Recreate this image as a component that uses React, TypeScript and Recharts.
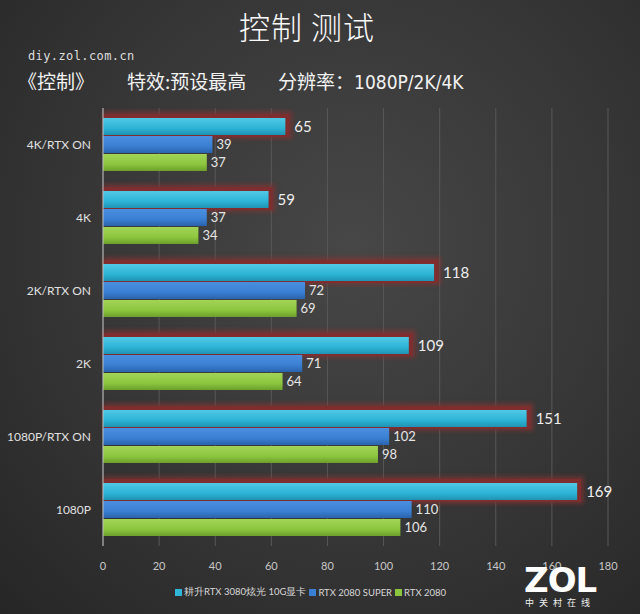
import React from "react";
import {
  BarChart,
  Bar,
  XAxis,
  YAxis,
  CartesianGrid,
  LabelList,
} from "recharts";

const categories = ["4K/RTX ON", "4K", "2K/RTX ON", "2K", "1080P/RTX ON", "1080P"];
const rtx3080 = [65, 59, 118, 109, 151, 169];
const rtx2080Super = [39, 37, 72, 71, 102, 110];
const rtx2080 = [37, 34, 69, 64, 98, 106];
const xTicks = [0, 20, 40, 60, 80, 100, 120, 140, 160, 180];

const seriesNames = ["耕升RTX 3080炫光 10G显卡", "RTX 2080 SUPER", "RTX 2080"];
const seriesColors = ["#2fb6d8", "#3a7fd2", "#8cc63e"];

const data = categories.map((label, i) => ({
  label,
  a: rtx3080[i],
  b: rtx2080Super[i],
  c: rtx2080[i],
}));

const font = "Lato, 'Noto Sans', sans-serif";
const cjk = "'Noto Sans CJK SC', sans-serif";

// cyan bar with the soft red glow box behind it
const GlowBar = (props: any) => {
  const { x, y, width, height } = props;
  return (
    <g>
      <rect x={x} y={y - 7} width={width + 7} height={height + 11} fill="#8a3030" opacity={0.6} filter="url(#soft)" />
      <rect x={x} y={y - 4} width={width + 4} height={height + 6} fill="#7e2e2e" />
      <rect x={x} y={y} width={width} height={height} fill="url(#gCyan)" />
    </g>
  );
};

const PlainBar = (fillId: string) => (props: any) => {
  const { x, y, width, height } = props;
  return <rect x={x} y={y} width={width} height={height} fill={`url(#${fillId})`} />;
};

// single-line category label, right aligned
const CategoryTick = (props: any) => {
  const { x, y, payload } = props;
  return (
    <text x={x} y={y} dx={4} dy={4} textAnchor="end" fill="#e0e0e0" fontSize={12} fontFamily={font}>
      {payload.value}
    </text>
  );
};

export default function App() {
  return (
    <div
      style={{
        position: "absolute",
        top: 0,
        left: 0,
        width: 640,
        height: 614,
        background: "radial-gradient(ellipse at 55% 40%, #474747 0%, #363636 55%, #262626 100%)",
        overflow: "hidden",
      }}
    >
      <div
        style={{
          position: "absolute",
          top: 3,
          left: 0,
          width: 614,
          textAlign: "center",
          color: "#fafafa",
          fontFamily: cjk,
          fontSize: 31,
          fontWeight: 300,
          letterSpacing: 1,
        }}
      >
        控制 测试
      </div>
      <div
        style={{
          position: "absolute",
          top: 49,
          left: 28,
          color: "#dedede",
          fontFamily: "'DejaVu Sans Mono', monospace",
          fontSize: 12,
          letterSpacing: 0.4,
        }}
      >
        diy.zol.com.cn
      </div>
      <div style={{ position: "absolute", top: 67, left: 18, color: "#f2f2f2", fontFamily: cjk, fontSize: 19 }}>
        《控制》
      </div>
      <div style={{ position: "absolute", top: 67, left: 127, color: "#f2f2f2", fontFamily: cjk, fontSize: 19 }}>
        特效:预设最高
      </div>
      <div
        style={{
          position: "absolute",
          top: 67,
          left: 278,
          color: "#f2f2f2",
          fontFamily: cjk,
          fontSize: 19,
          whiteSpace: "pre",
        }}
      >
        分辨率：<span style={{ fontFamily: "'Liberation Sans Narrow', 'DejaVu Sans Condensed', sans-serif" }}>1080P/2K/4K</span>
      </div>

      <div style={{ position: "absolute", top: 0, left: 0 }}>
        <BarChart
          width={640}
          height={614}
          data={data}
          layout="vertical"
          margin={{ top: 108, right: 32, bottom: 38, left: 3 }}
          barSize={17}
          barGap={1}
        >
          <defs>
            <filter id="soft" x="-10%" y="-50%" width="120%" height="200%">
              <feGaussianBlur stdDeviation="2" />
            </filter>
            <linearGradient id="gCyan" x1="0" y1="0" x2="0" y2="1">
              <stop offset="0%" stopColor="#52c8e6" />
              <stop offset="60%" stopColor="#2db4d6" />
              <stop offset="100%" stopColor="#1f93b3" />
            </linearGradient>
            <linearGradient id="gBlue" x1="0" y1="0" x2="0" y2="1">
              <stop offset="0%" stopColor="#4b8fe0" />
              <stop offset="60%" stopColor="#3a7fd2" />
              <stop offset="100%" stopColor="#2a63ad" />
            </linearGradient>
            <linearGradient id="gGreen" x1="0" y1="0" x2="0" y2="1">
              <stop offset="0%" stopColor="#a2d457" />
              <stop offset="60%" stopColor="#8cc63e" />
              <stop offset="100%" stopColor="#6d9f2c" />
            </linearGradient>
          </defs>
          <CartesianGrid horizontal={false} stroke="#585858" strokeWidth={1} />
          <XAxis
            type="number"
            domain={[0, 180]}
            ticks={xTicks}
            axisLine={false}
            tickLine={false}
            tick={{ fill: "#c8c8c8", fontSize: 11, fontFamily: font }}
            tickMargin={10}
          />
          <YAxis
            type="category"
            dataKey="label"
            width={100}
            axisLine={{ stroke: "#bdbdbd" }}
            tickLine={false}
            tick={<CategoryTick />}
            tickMargin={10}
          />
          <Bar dataKey="a" name={seriesNames[0]} fill={seriesColors[0]} shape={GlowBar} isAnimationActive={false}>
            <LabelList dataKey="a" position="right" offset={9} fill="#eeeeee" fontSize={15} fontFamily={font} />
          </Bar>
          <Bar dataKey="b" name={seriesNames[1]} fill={seriesColors[1]} shape={PlainBar("gBlue")} isAnimationActive={false}>
            <LabelList dataKey="b" position="right" offset={4} fill="#e6e6e6" fontSize={13} fontFamily={font} />
          </Bar>
          <Bar dataKey="c" name={seriesNames[2]} fill={seriesColors[2]} shape={PlainBar("gGreen")} isAnimationActive={false}>
            <LabelList dataKey="c" position="right" offset={4} fill="#e6e6e6" fontSize={13} fontFamily={font} />
          </Bar>
        </BarChart>
      </div>

      {/* legend */}
      <div
        style={{
          position: "absolute",
          top: 586,
          left: 175,
          display: "flex",
          alignItems: "center",
          fontFamily: font,
          fontSize: 9.5,
          color: "#d8d8d8",
          whiteSpace: "nowrap",
        }}
      >
        {seriesNames.map((n, i) => (
          <span key={n} style={{ display: "flex", alignItems: "center", marginRight: 3 }}>
            <span
              style={{ width: 7, height: 7, background: seriesColors[i], display: "inline-block", marginRight: 2 }}
            />
            {n}
          </span>
        ))}
      </div>

      <div
        style={{
          position: "absolute",
          left: 524,
          top: 566,
          width: 72,
          textAlign: "center",
          color: "#ffffff",
          fontFamily: "'DejaVu Sans', sans-serif",
          fontWeight: 900,
          fontSize: 34,
          lineHeight: "28px",
          letterSpacing: -1,
        }}
      >
        ZOL
      </div>
      <div
        style={{
          position: "absolute",
          left: 524,
          top: 597,
          width: 72,
          textAlign: "center",
          color: "#f0f0f0",
          fontFamily: cjk,
          fontSize: 9,
          lineHeight: "12px",
          letterSpacing: 5,
        }}
      >
        中关村在线
      </div>
    </div>
  );
}
